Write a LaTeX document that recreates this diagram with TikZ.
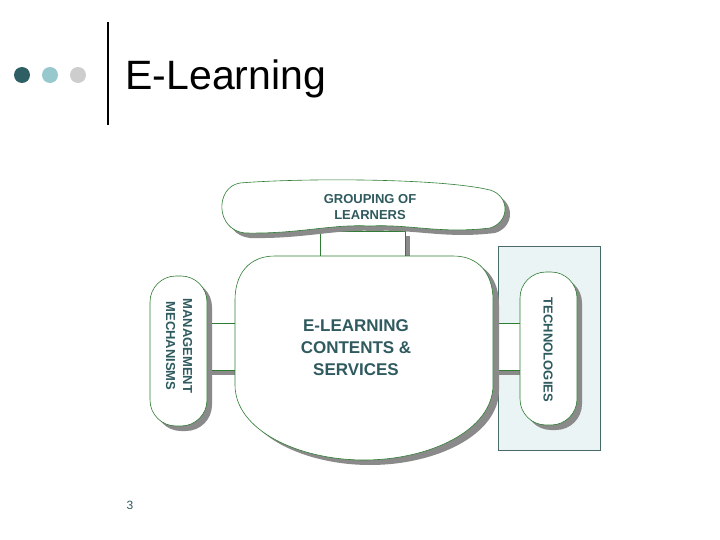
\documentclass[tikz,border=0pt]{standalone}
\usepackage{fontspec}
\setmainfont{Liberation Sans}
\definecolor{ln}{HTML}{2E7D32}
\definecolor{txt}{HTML}{2F5A5E}
\definecolor{shd}{HTML}{8A8A8A}
\definecolor{tbg}{HTML}{EAF4F4}
\definecolor{tbd}{HTML}{4A6A6A}
\tikzset{box/.style={draw=ln,fill=white,line width=0.6pt},
 lbl/.style={text=txt,font=\bfseries,align=center}}
\begin{document}
\begin{tikzpicture}[x=1pt,y=-1pt]
\useasboundingbox (0,0) rectangle (720,540);
% header
\fill[fill={rgb,255:red,45;green,95;blue,100}] (22,75) circle (8) node (d1) {};
\fill[fill={rgb,255:red,150;green,200;blue,205}] (50,75) circle (8) node (d2) {};
\fill[fill={rgb,255:red,205;green,205;blue,205}] (78,75) circle (8) node (d3) {};
\draw[line width=2pt] (108,22) -- (108,125);
\node[anchor=west,font=\fontsize{41}{46}\selectfont] (title) at (122,79) {E-Learning};
% technologies panel
\draw[fill=tbg,draw=tbd] (498,246) rectangle (600,450);
% connectors
\fill[shd] (325,236) rectangle (410,261);
\draw[box] (320,231) rectangle (405,256);
\fill[shd] (212,328) rectangle (240,375);
\draw[box] (207,323) rectangle (235,370);
\fill[shd] (498,328) rectangle (525,375);
\draw[box] (493,323) rectangle (520,370);
% grouping cloud
\def\cloud{(240,183) .. controls (300,178) and (440,178) .. (490,190) .. controls (510,196) and (510,222) .. (490,228) .. controls (440,234) and (410,224) .. (370,226) .. controls (330,224) and (300,234) .. (245,233) .. controls (215,230) and (215,187) .. (240,183) -- cycle}
\fill[shd,shift={(5,5)}] \cloud;
\draw[box] \cloud;
\node[lbl,font=\bfseries\fontsize{13}{16}\selectfont] (grp) at (370,207) {GROUPING OF\\LEARNERS};
% main shape
\def\mainsh{(275,256) -- (453,256) .. controls (480,256) and (493,275) .. (493,300) -- (493,385) .. controls (493,430) and (430,460) .. (364,460) .. controls (298,460) and (235,430) .. (235,385) -- (235,300) .. controls (235,275) and (248,256) .. (275,256) -- cycle}
\fill[shd,shift={(6,5)}] \mainsh;
\draw[box] \mainsh;
\node[lbl,font=\bfseries\fontsize{17}{22}\selectfont] (main) at (356,348) {E-LEARNING\\CONTENTS \&\\SERVICES};
% management pill
\fill[shd,rounded corners=26] (155,281) rectangle (212,431);
\draw[box,rounded corners=26] (150,276) rectangle (207,426);
\node[lbl,rotate=-90,font=\bfseries\fontsize{13}{17}\selectfont] (mgmt) at (179,346) {MANAGEMENT\\MECHANISMS};
% technologies pill
\fill[shd,rounded corners=26] (525,277) rectangle (582,430);
\draw[box,rounded corners=26] (520,272) rectangle (577,425);
\node[lbl,rotate=-90,font=\bfseries\fontsize{13}{17}\selectfont] (tech) at (548,350) {TECHNOLOGIES};
\node[text=txt,font=\fontsize{12}{14}\selectfont] (pg) at (130,505) {3};
\end{tikzpicture}
\end{document}
